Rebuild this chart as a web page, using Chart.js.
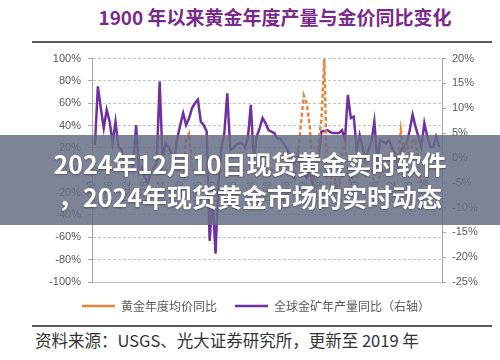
<!DOCTYPE html>
<html><head><meta charset="utf-8">
<script src="https://cdn.jsdelivr.net/npm/chart.js@4.4.1/dist/chart.umd.min.js"></script>
<style>
html,body{margin:0;padding:0;background:#fff;}
#wrap{position:relative;width:500px;height:360px;overflow:hidden;font-family:"Noto Sans CJK SC",sans-serif;}
#title{position:absolute;left:80px;width:390px;top:5px;text-align:center;font-size:19px;line-height:24px;font-weight:700;color:#7a2a8c;}
.rule{position:absolute;left:32px;width:460px;height:2px;background:#5a5a5a;}
#source{position:absolute;left:35px;top:329px;font-size:16.5px;line-height:22px;color:#333;white-space:nowrap;}
#cv{position:absolute;left:0;top:45px;}
#banner{position:absolute;left:0;top:135px;width:500px;height:90px;background:rgba(105,112,135,0.86);}
#banner div{text-align:center;color:#fff;font-weight:700;font-size:25px;line-height:33px;text-shadow:0 1px 2px rgba(0,0,0,0.35);white-space:nowrap;}
</style></head>
<body>
<div id="wrap">
  <div id="title">1900 年以来黄金年度产量与金价同比变化</div>
  <div class="rule" style="top:41px"></div>
  <canvas id="cv" width="500" height="277"></canvas>
  <div class="rule" style="top:325px"></div>
  <div id="source">资料来源：USGS、光大证券研究所，更新至 2019 年</div>
  <div id="banner"><div style="padding-top:12px">2024年12月10日现货黄金实时软件</div><div>，2024年现货黄金市场的实时动态</div></div>
</div>
<script>
const years = [1900,1901,1902,1903,1904,1905,1906,1907,1908,1909,1910,1911,1912,1913,1914,1915,1916,1917,1918,1919,
1920,1921,1922,1923,1924,1925,1926,1927,1928,1929,1930,1931,1932,1933,1934,1935,1936,1937,1938,1939,
1940,1941,1942,1943,1944,1945,1946,1947,1948,1949,1950,1951,1952,1953,1954,1955,1956,1957,1958,1959,
1960,1961,1962,1963,1964,1965,1966,1967,1968,1969,1970,1971,1972,1973,1974,1975,1976,1977,1978,1979,
1980,1981,1982,1983,1984,1985,1986,1987,1988,1989,1990,1991,1992,1993,1994,1995,1996,1997,1998,1999,
2000,2001,2002,2003,2004,2005,2006,2007,2008,2009,2010,2011,2012,2013,2014,2015,2016,2017,2018,2019];

// 黄金年度均价同比 (%), left axis
const goldPriceYoY = [0,0,0,0,0,0,0,0,0,0,0,0,0,0,0,0,0,0,0,0,
0,0,0,0,0,0,0,0,0,0,0,-6,28,33,1,0,0,0,0,0,
0,0,0,0,0,0,0,0,0,0,0,0,0,0,0,0,0,0,0,0,
0,0,0,0,0,0,0,5,10,-10,15,40,67,60,40,0,-20,25,45,100,
-20,-18,13,-17,-11,16,23,-2,-13,-1,-6,-5,4,7,0,1,-15,-11,-5,0,
-3,14,17,13,9,36,15,25,12,26,28,6,-15,-10,-8,8,1,1,10,null];

// 全球金矿年产量同比 (%), right axis
const mineOutputYoY = [null,2.6,14.4,10,6.0,9.7,7.3,3.0,7.3,2.2,1.6,-1,-2,-2.5,-1.5,6.6,-3,-2,-4,-5,
-3,-2,-1,15.4,-0.5,3,2.2,1,-0.5,4,6.6,9.0,6.6,8,10,11,11.7,7.3,6.6,5.3,
-16.7,-7.9,-19.3,-5,2,5,13,1.6,2,2.6,3,3,2,4,10.7,-0.5,4.3,6,8,7,
5.6,5.3,5,3.9,3.9,3,2.2,1,0.5,-1,1,-2,-3,-4,-3,-5,-2,0,5.3,5.4,
5.6,5.2,5,5,5,5.6,3.6,12.7,8,8.3,1.6,4.6,2,-0.5,1.6,3.2,7.3,-0.5,3.6,3.2,
2.9,3.6,2,0.9,-1.8,1.6,2.3,2.9,5.5,8.7,6.3,4.3,2.2,7,4.3,2.2,2.2,4.3,2.2,null];

const leftTicks = {min:-100, max:100, step:20};
const rightTicks = {min:-25, max:20, step:5};
const seriesNames = ['黄金年度均价同比','全球金矿年产量同比（右轴）'];

new Chart(document.getElementById('cv'), {
  type:'line',
  data:{
    labels: years,
    datasets:[
      {label:seriesNames[0], data:goldPriceYoY, yAxisID:'y', borderColor:'#e9853a', backgroundColor:'#e9853a',
       borderWidth:2.5, borderDash:[4,2.5], pointRadius:0, tension:0, fill:false},
      {label:seriesNames[1], data:mineOutputYoY, yAxisID:'y1', borderColor:'#7030a0', backgroundColor:'#7030a0',
       borderWidth:2.5, pointRadius:0, tension:0, fill:false}
    ]
  },
  options:{
    responsive:false, animation:false,
    layout:{padding:{top:13,left:12,right:0,bottom:0}},
    plugins:{
      tooltip:{enabled:false},
      legend:{position:'bottom', labels:{usePointStyle:true, pointStyle:'line', pointStyleWidth:33, padding:18,
        color:'#595959', font:{size:12, family:'"Noto Sans CJK SC"'}}}
    },
    scales:{
      x:{position:{y:0}, grid:{display:false}, border:{color:'#bfbfbf'},
        ticks:{autoSkip:false, minRotation:90, maxRotation:90, color:'#595959', font:{size:10, family:'"Liberation Sans"'},
          callback:function(v,i){ return i%6===0 ? this.getLabelForValue(v) : null; }},
        afterFit:s=>{s.height=0;}},
      y:{position:'left', min:leftTicks.min, max:leftTicks.max,
        ticks:{stepSize:leftTicks.step, color:'#595959', padding:7, font:{size:11, family:'"Liberation Sans"'}, callback:v=>v+'%'},
        grid:{color:'#c4c4c4', tickLength:4, tickColor:'#a6a6a6'},
        border:{color:'#a6a6a6', dash:ctx=> (ctx.tick && ctx.tick.value===-100) ? [] : [3,2]},
        afterFit:s=>{s.width=80;}},
      y1:{position:'right', min:rightTicks.min, max:rightTicks.max,
        ticks:{stepSize:rightTicks.step, color:'#595959', padding:6, font:{size:11, family:'"Liberation Sans"'}, callback:v=>v+'%'},
        grid:{drawOnChartArea:false, tickLength:4, color:'#a6a6a6'},
        border:{color:'#a6a6a6'},
        afterFit:s=>{s.width=58;}}
    }
  }
});
</script>
</body></html>
